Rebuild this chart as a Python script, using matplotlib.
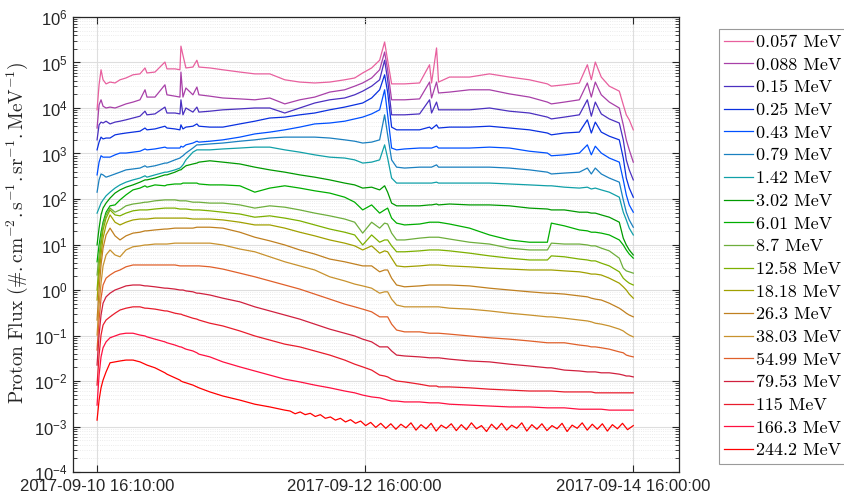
import matplotlib
matplotlib.use("Agg")
import matplotlib.pyplot as plt
import matplotlib.ticker as mticker
import numpy as np
import pandas as pd

plt.rcParams["font.family"] = "Liberation Sans"
plt.rcParams["mathtext.fontset"] = "custom"
plt.rcParams["mathtext.rm"] = "Liberation Sans"
plt.rcParams["mathtext.it"] = "Liberation Sans:italic"
plt.rcParams["mathtext.bf"] = "Liberation Sans:bold"

# hours after 2017-09-10 16:10:00
hours = [0.00, 0.36, 0.71, 1.07, 1.61, 2.32, 3.21, 4.10, 5.17, 6.42,
         7.67, 8.57, 8.92, 10.35, 12.13, 12.49, 13.92, 14.81, 14.99, 15.35,
         15.88, 17.13, 17.84, 18.20, 20.16, 22.48, 25.52, 28.19, 30.87, 33.55,
         36.22, 38.90, 41.58, 44.25, 46.04, 47.47, 49.07, 50.50, 51.39, 51.93,
         52.64, 53.53, 54.96, 57.64, 59.42, 59.78, 60.67, 61.03, 62.99, 66.56,
         70.13, 73.70, 77.27, 80.48, 81.19, 83.51, 86.19, 87.62, 88.33, 89.04,
         90.11, 91.54, 93.33, 94.04, 94.58, 95.11, 95.83]

# log10 of proton flux, one list per energy channel
lf_0057 = [3.96, 4.51, 4.84, 4.62, 4.53, 4.57, 4.55, 4.62, 4.66, 4.73,
           4.75, 4.88, 4.77, 4.79, 5.01, 4.86, 4.86, 4.84, 5.36, 5.16,
           4.88, 4.90, 5.05, 4.90, 4.88, 4.84, 4.79, 4.75, 4.75, 4.62,
           4.57, 4.55, 4.57, 4.62, 4.66, 4.77, 4.88, 5.05, 5.45, 5.05,
           4.53, 4.53, 4.53, 4.55, 4.95, 4.55, 5.32, 4.57, 4.68, 4.68,
           4.75, 4.68, 4.62, 4.53, 4.48, 4.51, 4.55, 4.95, 4.62, 5.01,
           4.68, 4.48, 4.37, 4.07, 3.85, 3.74, 3.52]
lf_0088 = [3.56, 4.07, 4.18, 4.04, 4.00, 4.02, 4.00, 4.04, 4.09, 4.13,
           4.18, 4.40, 4.24, 4.24, 4.51, 4.29, 4.26, 4.24, 4.79, 4.24,
           4.44, 4.29, 4.46, 4.29, 4.26, 4.22, 4.20, 4.18, 4.22, 4.09,
           4.18, 4.24, 4.35, 4.40, 4.48, 4.55, 4.66, 4.84, 5.23, 4.84,
           4.18, 4.18, 4.18, 4.20, 4.57, 4.22, 4.57, 4.33, 4.35, 4.40,
           4.40, 4.31, 4.24, 4.13, 4.09, 4.13, 4.18, 4.55, 4.24, 4.57,
           4.29, 4.13, 4.00, 3.63, 3.30, 3.08, 2.81]
lf_015 = [3.30, 3.63, 3.69, 3.67, 3.71, 3.65, 3.69, 3.71, 3.74, 3.78,
          3.82, 3.93, 3.85, 3.87, 4.02, 3.89, 3.89, 3.87, 4.18, 3.85,
          4.00, 3.91, 4.02, 3.91, 3.93, 3.96, 3.98, 4.00, 4.00, 3.89,
          4.00, 4.11, 4.18, 4.22, 4.29, 4.37, 4.48, 4.62, 5.05, 4.62,
          3.85, 3.85, 3.85, 3.87, 4.18, 3.89, 4.13, 3.96, 3.96, 3.96,
          4.00, 3.93, 3.89, 3.80, 3.76, 3.80, 3.85, 4.18, 3.82, 4.13,
          3.87, 3.76, 3.67, 3.30, 2.86, 2.64, 2.42]
lf_025 = [3.08, 3.25, 3.36, 3.32, 3.34, 3.34, 3.41, 3.43, 3.45, 3.47,
          3.49, 3.56, 3.52, 3.54, 3.60, 3.56, 3.54, 3.52, 3.63, 3.54,
          3.58, 3.60, 3.65, 3.60, 3.58, 3.58, 3.65, 3.71, 3.78, 3.80,
          3.85, 3.89, 3.96, 4.02, 4.07, 4.11, 4.22, 4.40, 4.73, 4.35,
          3.58, 3.52, 3.52, 3.52, 3.58, 3.54, 3.63, 3.56, 3.58, 3.58,
          3.60, 3.56, 3.52, 3.45, 3.41, 3.45, 3.47, 3.74, 3.45, 3.69,
          3.47, 3.38, 3.30, 2.90, 2.46, 2.24, 2.04]
lf_043 = [2.53, 2.81, 2.95, 2.92, 2.92, 2.92, 2.97, 3.01, 3.01, 3.03,
          3.05, 3.10, 3.08, 3.10, 3.14, 3.12, 3.12, 3.12, 3.16, 3.14,
          3.19, 3.23, 3.27, 3.25, 3.27, 3.30, 3.36, 3.43, 3.47, 3.52,
          3.58, 3.65, 3.67, 3.71, 3.76, 3.80, 3.87, 3.96, 4.40, 3.85,
          3.12, 3.08, 3.10, 3.12, 3.12, 3.12, 3.16, 3.12, 3.12, 3.12,
          3.14, 3.12, 3.05, 3.01, 2.95, 2.97, 3.01, 3.19, 2.97, 3.16,
          3.01, 2.90, 2.81, 2.42, 2.09, 1.87, 1.71]
lf_079 = [2.15, 2.42, 2.55, 2.53, 2.48, 2.51, 2.55, 2.59, 2.64, 2.66,
          2.68, 2.73, 2.70, 2.73, 2.79, 2.79, 2.86, 2.90, 2.92, 2.95,
          3.01, 3.12, 3.19, 3.19, 3.21, 3.23, 3.27, 3.30, 3.34, 3.36,
          3.36, 3.36, 3.34, 3.30, 3.27, 3.23, 3.25, 3.30, 3.85, 3.41,
          2.86, 2.70, 2.68, 2.70, 2.70, 2.70, 2.75, 2.70, 2.70, 2.70,
          2.70, 2.68, 2.64, 2.59, 2.55, 2.57, 2.59, 2.68, 2.55, 2.68,
          2.55, 2.46, 2.37, 1.98, 1.71, 1.54, 1.38]
lf_142 = [1.69, 1.80, 1.91, 1.98, 2.07, 2.15, 2.24, 2.31, 2.37, 2.42,
          2.46, 2.51, 2.48, 2.53, 2.59, 2.59, 2.64, 2.68, 2.70, 2.75,
          2.86, 3.03, 3.08, 3.08, 3.08, 3.10, 3.12, 3.14, 3.14, 3.08,
          3.03, 2.97, 2.92, 2.90, 2.86, 2.79, 2.81, 2.86, 3.19, 2.90,
          2.46, 2.35, 2.35, 2.35, 2.35, 2.35, 2.37, 2.35, 2.35, 2.35,
          2.35, 2.33, 2.31, 2.29, 2.29, 2.26, 2.24, 2.26, 2.22, 2.24,
          2.20, 2.15, 2.04, 1.71, 1.54, 1.36, 1.21]
lf_302 = [0.99, 1.36, 1.65, 1.80, 1.91, 2.02, 2.13, 2.20, 2.26, 2.31,
          2.37, 2.42, 2.42, 2.46, 2.53, 2.53, 2.59, 2.64, 2.64, 2.68,
          2.73, 2.77, 2.79, 2.81, 2.84, 2.81, 2.77, 2.70, 2.64, 2.59,
          2.53, 2.48, 2.42, 2.35, 2.31, 2.24, 2.26, 2.20, 2.29, 2.15,
          1.91, 1.85, 1.85, 1.85, 1.87, 1.87, 1.89, 1.87, 1.89, 1.87,
          1.87, 1.85, 1.80, 1.78, 1.76, 1.76, 1.71, 1.71, 1.69, 1.69,
          1.65, 1.60, 1.49, 1.14, 0.99, 0.88, 0.77]
lf_601 = [0.62, 0.99, 1.27, 1.49, 1.71, 1.85, 1.87, 1.98, 2.09, 2.20,
          2.24, 2.29, 2.26, 2.31, 2.29, 2.31, 2.33, 2.33, 2.33, 2.35,
          2.35, 2.35, 2.35, 2.33, 2.31, 2.31, 2.29, 2.15, 2.24, 2.29,
          2.24, 2.18, 2.13, 2.04, 1.93, 1.76, 1.87, 1.69, 1.76, 1.80,
          1.58, 1.47, 1.43, 1.45, 1.49, 1.49, 1.49, 1.49, 1.45, 1.36,
          1.21, 1.10, 1.05, 1.05, 1.47, 1.41, 1.32, 1.30, 1.27, 1.27,
          1.25, 1.21, 1.10, 0.99, 0.88, 0.79, 0.70]
lf_87 = [0.33, 0.77, 1.14, 1.43, 1.65, 1.80, 1.71, 1.76, 1.85, 1.89,
         1.91, 1.93, 1.93, 1.96, 1.98, 1.98, 1.98, 1.96, 1.96, 1.96,
         1.96, 1.93, 1.93, 1.93, 1.91, 1.91, 1.87, 1.80, 1.85, 1.82,
         1.76, 1.69, 1.63, 1.56, 1.49, 1.25, 1.49, 1.36, 1.47, 1.45,
         1.25, 1.10, 1.10, 1.14, 1.16, 1.16, 1.16, 1.16, 1.12, 1.05,
         1.01, 0.92, 0.88, 0.88, 1.03, 1.01, 1.01, 0.99, 0.97, 0.97,
         0.92, 0.86, 0.70, 0.48, 0.42, 0.40, 0.37]
lf_1258 = [0.00, 0.55, 0.99, 1.32, 1.58, 1.76, 1.65, 1.63, 1.69, 1.74,
           1.76, 1.76, 1.76, 1.78, 1.80, 1.80, 1.80, 1.78, 1.78, 1.78,
           1.78, 1.76, 1.76, 1.76, 1.74, 1.71, 1.67, 1.60, 1.63, 1.58,
           1.52, 1.43, 1.34, 1.27, 1.21, 0.99, 1.21, 1.05, 1.10, 1.10,
           0.97, 0.84, 0.84, 0.86, 0.88, 0.88, 0.88, 0.88, 0.86, 0.81,
           0.75, 0.70, 0.66, 0.66, 0.75, 0.73, 0.68, 0.66, 0.64, 0.64,
           0.59, 0.53, 0.40, 0.26, 0.20, 0.15, 0.11]
lf_1818 = [-0.22, 0.33, 0.77, 1.14, 1.43, 1.65, 1.49, 1.43, 1.49, 1.54,
           1.56, 1.56, 1.56, 1.58, 1.58, 1.58, 1.58, 1.58, 1.58, 1.58,
           1.58, 1.56, 1.56, 1.56, 1.56, 1.54, 1.49, 1.43, 1.43, 1.36,
           1.27, 1.19, 1.10, 1.03, 0.97, 0.88, 0.97, 0.81, 0.86, 0.84,
           0.70, 0.53, 0.51, 0.53, 0.55, 0.55, 0.55, 0.55, 0.53, 0.51,
           0.48, 0.46, 0.44, 0.44, 0.44, 0.42, 0.40, 0.37, 0.35, 0.35,
           0.33, 0.26, 0.15, 0.07, 0.00, -0.09, -0.18]
lf_263 = [-0.66, 0.00, 0.55, 0.92, 1.21, 1.36, 1.19, 1.10, 1.19, 1.25,
          1.27, 1.30, 1.30, 1.32, 1.34, 1.34, 1.36, 1.36, 1.36, 1.36,
          1.36, 1.36, 1.38, 1.38, 1.38, 1.36, 1.27, 1.16, 1.08, 0.99,
          0.88, 0.79, 0.68, 0.62, 0.57, 0.53, 0.53, 0.40, 0.44, 0.44,
          0.26, 0.11, 0.07, 0.09, 0.11, 0.11, 0.11, 0.11, 0.11, 0.09,
          0.04, 0.00, -0.04, -0.07, -0.07, -0.09, -0.13, -0.15, -0.18, -0.20,
          -0.22, -0.29, -0.40, -0.46, -0.51, -0.55, -0.59]
lf_3803 = [-0.99, -0.33, 0.15, 0.53, 0.77, 0.88, 0.77, 0.73, 0.88, 0.95,
           0.97, 0.99, 0.99, 1.01, 1.01, 1.01, 1.03, 1.03, 1.03, 1.03,
           1.03, 1.03, 1.03, 1.03, 1.03, 0.99, 0.90, 0.84, 0.73, 0.62,
           0.53, 0.44, 0.29, 0.20, 0.13, 0.09, 0.04, -0.07, -0.04, -0.04,
           -0.20, -0.33, -0.37, -0.37, -0.37, -0.37, -0.37, -0.37, -0.40, -0.42,
           -0.46, -0.51, -0.55, -0.59, -0.59, -0.62, -0.66, -0.68, -0.70, -0.73,
           -0.75, -0.79, -0.86, -0.90, -0.95, -0.99, -1.03]
lf_5499 = [-1.32, -0.66, -0.18, 0.11, 0.26, 0.33, 0.40, 0.44, 0.51, 0.55,
           0.55, 0.55, 0.55, 0.55, 0.55, 0.55, 0.55, 0.53, 0.53, 0.53,
           0.53, 0.53, 0.53, 0.53, 0.51, 0.46, 0.37, 0.29, 0.20, 0.11,
           0.02, -0.09, -0.20, -0.31, -0.37, -0.42, -0.48, -0.59, -0.59, -0.59,
           -0.75, -0.88, -0.92, -0.92, -0.95, -0.95, -0.95, -0.95, -0.97, -1.01,
           -1.05, -1.08, -1.12, -1.16, -1.16, -1.16, -1.21, -1.23, -1.25, -1.25,
           -1.27, -1.30, -1.36, -1.38, -1.43, -1.45, -1.47]
lf_7953 = [-1.65, -0.99, -0.55, -0.29, -0.15, -0.07, 0.00, 0.04, 0.09, 0.11,
           0.11, 0.09, 0.09, 0.07, 0.04, 0.04, 0.02, 0.00, 0.00, 0.00,
           -0.02, -0.04, -0.07, -0.07, -0.11, -0.18, -0.26, -0.37, -0.46, -0.55,
           -0.64, -0.75, -0.86, -0.95, -1.01, -1.08, -1.14, -1.25, -1.25, -1.25,
           -1.34, -1.43, -1.45, -1.47, -1.49, -1.49, -1.49, -1.49, -1.52, -1.56,
           -1.58, -1.63, -1.67, -1.71, -1.71, -1.76, -1.78, -1.80, -1.80, -1.80,
           -1.82, -1.82, -1.85, -1.87, -1.89, -1.89, -1.91]
lf_115 = [-2.09, -1.43, -0.99, -0.77, -0.66, -0.59, -0.51, -0.44, -0.40, -0.37,
          -0.37, -0.40, -0.40, -0.42, -0.46, -0.46, -0.51, -0.53, -0.53, -0.55,
          -0.57, -0.62, -0.64, -0.66, -0.73, -0.79, -0.90, -1.01, -1.10, -1.19,
          -1.25, -1.34, -1.43, -1.54, -1.63, -1.69, -1.76, -1.87, -1.89, -1.91,
          -1.96, -2.00, -2.02, -2.07, -2.11, -2.11, -2.11, -2.13, -2.13, -2.15,
          -2.18, -2.20, -2.22, -2.22, -2.22, -2.24, -2.24, -2.24, -2.24, -2.26,
          -2.26, -2.26, -2.26, -2.26, -2.26, -2.26, -2.26]
lf_1663 = [-2.53, -1.87, -1.47, -1.27, -1.14, -1.05, -1.01, -0.97, -0.95, -0.95,
           -0.99, -1.01, -1.03, -1.08, -1.14, -1.16, -1.21, -1.25, -1.25, -1.27,
           -1.30, -1.34, -1.38, -1.41, -1.47, -1.58, -1.69, -1.78, -1.87, -1.96,
           -2.02, -2.09, -2.15, -2.22, -2.26, -2.31, -2.35, -2.37, -2.40, -2.42,
           -2.44, -2.44, -2.46, -2.46, -2.48, -2.48, -2.48, -2.48, -2.51, -2.53,
           -2.55, -2.57, -2.57, -2.59, -2.59, -2.59, -2.62, -2.62, -2.62, -2.62,
           -2.62, -2.64, -2.64, -2.64, -2.64, -2.64, -2.64]

# 244.2 MeV is noisy, so it has its own, denser time base after ~34 h
hours_2442 = hours[:30] + [
    34.5, 35.4, 36.3, 37.2, 38.1, 39.0, 39.9, 40.8, 41.7, 42.6,
    43.5, 44.4, 45.3, 46.2, 47.1, 48.0, 48.9, 49.8, 50.7, 51.6,
    52.5, 53.4, 54.3, 55.2, 56.1, 57.0, 57.9, 58.8, 59.7, 60.6,
    61.5, 62.4, 63.3, 64.2, 65.1, 66.0, 66.9, 67.8, 68.7, 69.6,
    70.5, 71.4, 72.3, 73.2, 74.1, 75.0, 75.9, 76.8, 77.7, 78.6,
    79.5, 80.4, 81.3, 82.2, 83.1, 84.0, 84.9, 85.8, 86.7, 87.6,
    88.5, 89.4, 90.3, 91.2, 92.1, 93.0, 93.9, 94.8, 95.83]
lf_2442 = [-2.86, -2.42, -2.15, -1.98, -1.80, -1.60, -1.58, -1.56, -1.54, -1.54,
           -1.58, -1.63, -1.65, -1.71, -1.82, -1.85, -1.93, -1.98, -2.00, -2.02,
           -2.04, -2.09, -2.13, -2.15, -2.24, -2.33, -2.42, -2.51, -2.57, -2.64,
           -2.66, -2.72, -2.68, -2.74, -2.71, -2.78, -2.74, -2.82, -2.79, -2.86,
           -2.82, -2.90, -2.85, -2.93, -2.88, -2.98, -2.91, -3.02, -2.93, -3.04,
           -2.94, -3.06, -2.95, -3.03, -2.92, -3.08, -2.96, -3.05, -2.93, -3.10,
           -2.97, -3.04, -2.94, -3.09, -2.96, -3.07, -2.92, -3.05, -2.98, -3.11,
           -2.95, -3.06, -2.93, -3.08, -2.97, -3.04, -2.92, -3.10, -2.96, -3.06,
           -2.94, -3.09, -2.98, -3.05, -2.93, -3.11, -2.97, -3.04, -2.92, -3.08,
           -2.95, -3.06, -2.94, -3.10, -2.96, -3.05, -2.93, -3.07, -2.98]

labels = ["0.057 MeV", "0.088 MeV", "0.15 MeV", "0.25 MeV", "0.43 MeV",
          "0.79 MeV", "1.42 MeV", "3.02 MeV", "6.01 MeV", "8.7 MeV",
          "12.58 MeV", "18.18 MeV", "26.3 MeV", "38.03 MeV", "54.99 MeV",
          "79.53 MeV", "115 MeV", "166.3 MeV", "244.2 MeV"]
colors = ["#e8609e", "#a840a8", "#4b30c0", "#0a30e0", "#0050ff",
          "#1a80c0", "#10a0a8", "#009a00", "#00ae00", "#6eae3c",
          "#7db000", "#a0a000", "#c08020", "#c8922e", "#e0602a",
          "#d0203e", "#e81c2c", "#ff1040", "#ff0000"]
series = [lf_0057, lf_0088, lf_015, lf_025, lf_043, lf_079, lf_142, lf_302,
          lf_601, lf_87, lf_1258, lf_1818, lf_263, lf_3803, lf_5499, lf_7953,
          lf_115, lf_1663, lf_2442]
times = [hours] * 18 + [hours_2442]

start = pd.Timestamp("2017-09-10 16:10:00")

fig = plt.figure(figsize=(8.45, 4.98), dpi=100)
ax = fig.add_axes([73 / 845, 1 - 472 / 498, 606 / 845, 455 / 498])

for lab, col, hh, lf in zip(labels, colors, times, series):
    t = start + pd.to_timedelta(hh, unit="h")
    ax.plot(t, 10 ** np.array(lf), color=col, lw=0.9, label=lab)

ax.set_yscale("log")
ax.set_ylim(1e-4, 1e6)
ax.set_xlim(start - pd.Timedelta(hours=4.3), start + pd.Timedelta(hours=104.0))

xt = pd.to_datetime(["2017-09-10 16:10:00", "2017-09-12 16:00:00", "2017-09-14 16:00:00"])
ax.set_xticks(xt)
ax.set_xticklabels([d.strftime("%Y-%m-%d %H:%M:%S") for d in xt])

ax.yaxis.set_major_locator(mticker.LogLocator(base=10, numticks=12))
ax.yaxis.set_minor_locator(mticker.LogLocator(base=10, subs=np.arange(2, 10), numticks=12))
ax.yaxis.set_major_formatter(mticker.FuncFormatter(
    lambda v, p: r"$\mathregular{10^{%d}}$" % round(np.log10(v))))
ax.yaxis.set_minor_formatter(mticker.NullFormatter())

ax.tick_params(which="both", direction="in", top=True, right=True,
               labelsize=12, color="#262626", labelcolor="#262626")
ax.tick_params(which="major", length=5, width=0.8)
ax.tick_params(which="minor", length=3, width=0.6)
ax.tick_params(axis="x", pad=5)
ax.tick_params(axis="y", pad=4)
for s in ax.spines.values():
    s.set_color("#262626")
    s.set_linewidth(0.9)

ax.grid(True, which="major", color="#dedede", lw=0.8)
ax.grid(True, which="minor", axis="y", color="#e6e6e6", lw=0.6, ls=":")
ax.set_axisbelow(True)

yl = ax.set_ylabel(r"$\mathrm{Proton\ Flux\ (\#.cm^{-2}.s^{-1}.sr^{-1}.MeV^{-1})}$",
                   fontsize=14, color="#262626")
yl.set_math_fontfamily("cm")
ax.yaxis.set_label_coords(-0.071, 0.527)

leg = ax.legend(loc="upper left", bbox_to_anchor=(719 / 845, 1 - 29 / 498),
                bbox_transform=fig.transFigure, prop={"family": "cmr10", "size": 13},
                frameon=True, fancybox=False, framealpha=1, edgecolor="#9a9a9a",
                borderaxespad=0, borderpad=0.3, labelspacing=0.39,
                handlelength=1.6, handletextpad=0.15)
leg.get_frame().set_linewidth(0.8)

fig.savefig("out.png", dpi=100)
